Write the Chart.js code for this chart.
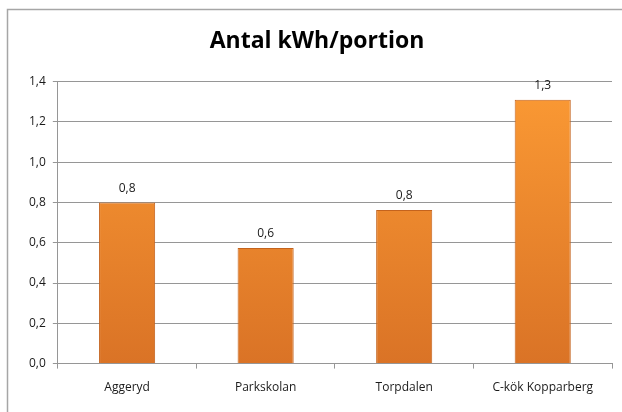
<!DOCTYPE html>
<html>
<head>
<meta charset="utf-8">
<script src="https://cdn.jsdelivr.net/npm/chart.js@4"></script>
<style>
    html, body { margin: 0; padding: 0; background: #fff; }
    #wrap { width: 622px; height: 412px; position: relative; }
</style>
</head>
<body>
<div id="wrap"><canvas id="graf" width="622" height="412"></canvas></div>
<script>
// ===== DATA =====
const kategorier = ["Aggeryd", "Parkskolan", "Torpdalen", "C-kök Kopparberg"]
const kwhPerPortion = [0.80, 0.574, 0.763, 1.31]
const etiketter = ["0,8", "0,6", "0,8", "1,3"]
const titel = "Antal kWh/portion"

const typsnitt = "'Open Sans', 'DejaVu Sans', sans-serif"

// ram runt diagrammet (bara vänster och övre kant syns)
const ramPlugin = {
    id: "ram",
    beforeDraw(chart) {
        const ctx = chart.ctx
        ctx.save()
        ctx.fillStyle = "#fff"
        ctx.fillRect(0, 0, chart.width, chart.height)
        ctx.strokeStyle = "#a6a6a6"
        ctx.lineWidth = 1.5
        ctx.beginPath()
        ctx.moveTo(7.5, chart.height + 5)
        ctx.lineTo(7.5, 9.5)
        ctx.lineTo(chart.width + 5, 9.5)
        ctx.stroke()
        ctx.restore()
    }
}

// värdeetiketter ovanför staplarna
const etikettPlugin = {
    id: "etiketter",
    afterDatasetsDraw(chart) {
        const ctx = chart.ctx
        const meta = chart.getDatasetMeta(0)
        ctx.save()
        ctx.font = "12px " + typsnitt
        ctx.fillStyle = "#1a1a1a"
        ctx.textAlign = "center"
        ctx.textBaseline = "middle"
        meta.data.forEach(function(bar, i) {
            ctx.fillText(etiketter[i], bar.x, bar.y - 14)
        })
        ctx.restore()
    }
}

function stapelFarg(context) {
    const chart = context.chart
    const area = chart.chartArea
    if (!area) return "#f0892f"
    const g = chart.ctx.createLinearGradient(0, area.top, 0, area.bottom)
    g.addColorStop(0, "#fb9a34")
    g.addColorStop(1, "#da7326")
    return g
}

const ctx = document.getElementById("graf").getContext("2d")
new Chart(ctx, {
    type: "bar",
    data: {
        labels: kategorier,
        datasets: [{
            data: kwhPerPortion,
            backgroundColor: stapelFarg,
            borderColor: "#c4631d",
            borderWidth: 1,
            categoryPercentage: 1,
            barPercentage: 0.405
        }]
    },
    options: {
        responsive: false,
        animation: false,
        layout: { padding: { left: 22, right: 10, top: 10, bottom: 5 } },
        plugins: {
            legend: { display: false },
            tooltip: { enabled: false },
            title: {
                display: true,
                text: titel,
                color: "#000",
                font: { family: typsnitt, size: 23, weight: "bold" },
                padding: { top: 18, bottom: 26 }
            }
        },
        scales: {
            y: {
                min: 0,
                max: 1.4,
                ticks: {
                    stepSize: 0.2,
                    color: "#1a1a1a",
                    padding: 7,
                    font: { family: typsnitt, size: 12 },
                    callback: v => v.toFixed(1).replace(".", ",")
                },
                grid: { color: "#969696", lineWidth: 1, tickLength: 5 },
                border: { color: "#969696" }
            },
            x: {
                ticks: {
                    color: "#1a1a1a",
                    padding: 12,
                    font: { family: typsnitt, size: 12 }
                },
                grid: { offset: true, drawOnChartArea: false, color: "#969696", tickLength: 5 },
                border: { color: "#969696" }
            }
        }
    },
    plugins: [ramPlugin, etikettPlugin]
})
</script>
</body>
</html>
